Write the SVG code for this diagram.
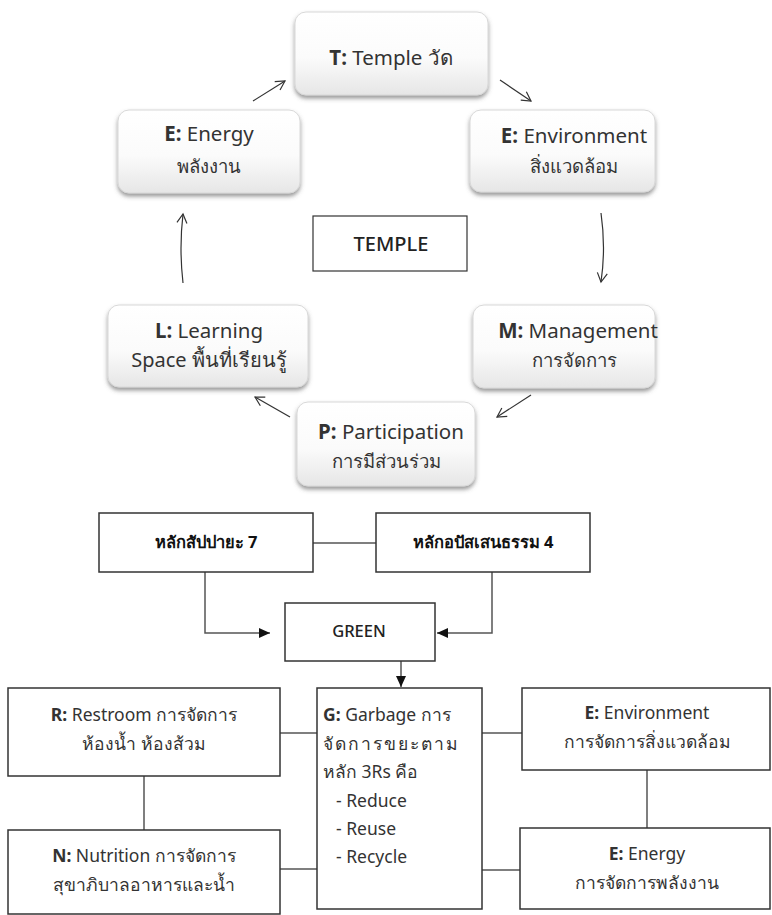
<svg xmlns="http://www.w3.org/2000/svg" width="772" height="915" viewBox="0 0 772 915">
<defs>
<linearGradient id="g" x1="0" y1="0" x2="0" y2="1">
<stop offset="0" stop-color="#ffffff"/>
<stop offset="0.55" stop-color="#fbfbfb"/>
<stop offset="1" stop-color="#e6e6e6"/>
</linearGradient>
<filter id="sh" x="-10%" y="-10%" width="120%" height="130%">
<feDropShadow dx="0" dy="3" stdDeviation="2" flood-color="#555" flood-opacity="0.6"/>
</filter>
<marker id="open" markerWidth="12" markerHeight="12" refX="10" refY="6" orient="auto" markerUnits="userSpaceOnUse">
<path d="M1,1 L10,6 L1,11" fill="none" stroke="#333" stroke-width="1.2"/>
</marker>
<marker id="solid" markerWidth="12" markerHeight="12" refX="11" refY="6" orient="auto" markerUnits="userSpaceOnUse">
<path d="M0,1 L11,6 L0,11 Z" fill="#111"/>
</marker>
</defs>
<style>
.rn{fill:url(#g);stroke:#d8d8d8;stroke-width:1;filter:url(#sh)}
.bx{fill:#fff;stroke:#333;stroke-width:1.5}
text{font-family:"Noto Sans","Open Sans",sans-serif;fill:#333;text-anchor:middle}
.t{font-size:20.5px}
.th{font-size:18.5px}
.tm{font-size:20px}
.s{font-size:17.5px}
.b{font-weight:bold}
.h{font-size:16.5px;font-weight:bold;fill:#111}
.l{text-anchor:start}
.c{fill:none;stroke:#555;stroke-width:1.5}
.a{fill:none;stroke:#333;stroke-width:1.2}
</style>

<g id="connectors">
<path class="a" d="M253,101 L285,81" marker-end="url(#open)"/>
<path class="a" d="M500,80 L531,101" marker-end="url(#open)"/>
<path class="a" d="M601,213 Q606,248 601,282" marker-end="url(#open)"/>
<path class="a" d="M531,395 L497,417" marker-end="url(#open)"/>
<path class="a" d="M290,417 L255,397" marker-end="url(#open)"/>
<path class="a" d="M183,283 Q179,248 183,214" marker-end="url(#open)"/>
<path class="c" d="M313,543 L376,543"/>
<path class="c" d="M205,572 L205,633 L270,633" marker-end="url(#solid)"/>
<path class="c" d="M492,572 L492,633 L437,633" stroke="#333" stroke-width="2" marker-end="url(#solid)"/>
<path class="c" d="M401,661 L401,687" stroke="#111" stroke-width="2" marker-end="url(#solid)"/>
<path class="c" d="M280,733 L317,733"/>
<path class="c" d="M144,776 L144,830"/>
<path class="c" d="M280,869 L317,869"/>
<path class="c" d="M482,733 L522,733"/>
<path class="c" d="M647,770 L647,828"/>
<path class="c" d="M482,870 L520,870"/>
</g>

<g id="T">
<rect class="rn" x="295" y="12" width="193" height="83" rx="11"/>
<text class="t" x="391" y="65"><tspan class="b">T:</tspan> Temple วัด</text>
</g>
<g id="E_env_top">
<rect class="rn" x="470" y="110" width="185" height="82" rx="11"/>
<text class="t" x="574" y="143"><tspan class="b">E:</tspan> Environment</text>
<text class="th" x="574" y="173">สิ่งแวดล้อม</text>
</g>
<g id="M">
<rect class="rn" x="473" y="305" width="182" height="83" rx="11"/>
<text class="t" x="578" y="338"><tspan class="b">M:</tspan> Management</text>
<text class="th" x="574" y="367">การจัดการ</text>
</g>
<g id="P">
<rect class="rn" x="297" y="402" width="178" height="84" rx="11"/>
<text class="t" x="391" y="439"><tspan class="b">P:</tspan> Participation</text>
<text class="th" x="386" y="468">การมีส่วนร่วม</text>
</g>
<g id="L">
<rect class="rn" x="108" y="305" width="200" height="82" rx="11"/>
<text class="t" x="209" y="338"><tspan class="b">L:</tspan> Learning</text>
<text class="tm" x="209" y="367">Space พื้นที่เรียนรู้</text>
</g>
<g id="E_energy_top">
<rect class="rn" x="118" y="110" width="182" height="83" rx="11"/>
<text class="t" x="209" y="141"><tspan class="b">E:</tspan> Energy</text>
<text class="th" x="209" y="173">พลังงาน</text>
</g>
<g id="TEMPLE">
<rect x="313" y="216" width="154" height="55" fill="#fff" stroke="#333" stroke-width="1.2"/>
<text x="391" y="251" style="font-size:20px;font-weight:500;fill:#222">TEMPLE</text>
</g>

<g id="sappaya">
<rect class="bx" x="99" y="513" width="214" height="59"/>
<text class="h" x="206" y="548">หลักสัปปายะ 7</text>
</g>
<g id="aparihaniya">
<rect class="bx" x="376" y="513" width="214" height="59"/>
<text class="h" x="483" y="548">หลักอปัสเสนธรรม 4</text>
</g>
<g id="GREEN">
<rect class="bx" x="285" y="603" width="150" height="58"/>
<text x="359" y="637" style="font-size:16.5px;font-weight:500;fill:#222">GREEN</text>
</g>
<g id="R">
<rect class="bx" x="8" y="688" width="272" height="88"/>
<text class="s" x="144" y="721"><tspan class="b">R:</tspan> Restroom การจัดการ</text>
<text class="s" x="144" y="750">ห้องน้ำ ห้องส้วม</text>
</g>
<g id="N">
<rect class="bx" x="8" y="830" width="272" height="84"/>
<text class="s" x="144" y="862"><tspan class="b">N:</tspan> Nutrition การจัดการ</text>
<text class="s" x="144" y="891">สุขาภิบาลอาหารและน้ำ</text>
</g>
<g id="G">
<rect class="bx" x="317" y="688" width="165" height="221"/>
<text class="s l" x="323" y="721"><tspan class="b">G:</tspan> Garbage การ</text>
<text class="s l" x="323" y="750" letter-spacing="2">จัดการขยะตาม</text>
<text class="s l" x="323" y="778">หลัก 3Rs คือ</text>
<text class="s l" x="336" y="807">- Reduce</text>
<text class="s l" x="336" y="835">- Reuse</text>
<text class="s l" x="336" y="863">- Recycle</text>
</g>
<g id="E_env">
<rect class="bx" x="522" y="688" width="248" height="82"/>
<text class="s" x="647" y="719"><tspan class="b">E:</tspan> Environment</text>
<text class="s" x="647" y="748">การจัดการสิ่งแวดล้อม</text>
</g>
<g id="E_energy">
<rect class="bx" x="520" y="828" width="250" height="81"/>
<text class="s" x="647" y="860"><tspan class="b">E:</tspan> Energy</text>
<text class="s" x="647" y="889">การจัดการพลังงาน</text>
</g>
</svg>
